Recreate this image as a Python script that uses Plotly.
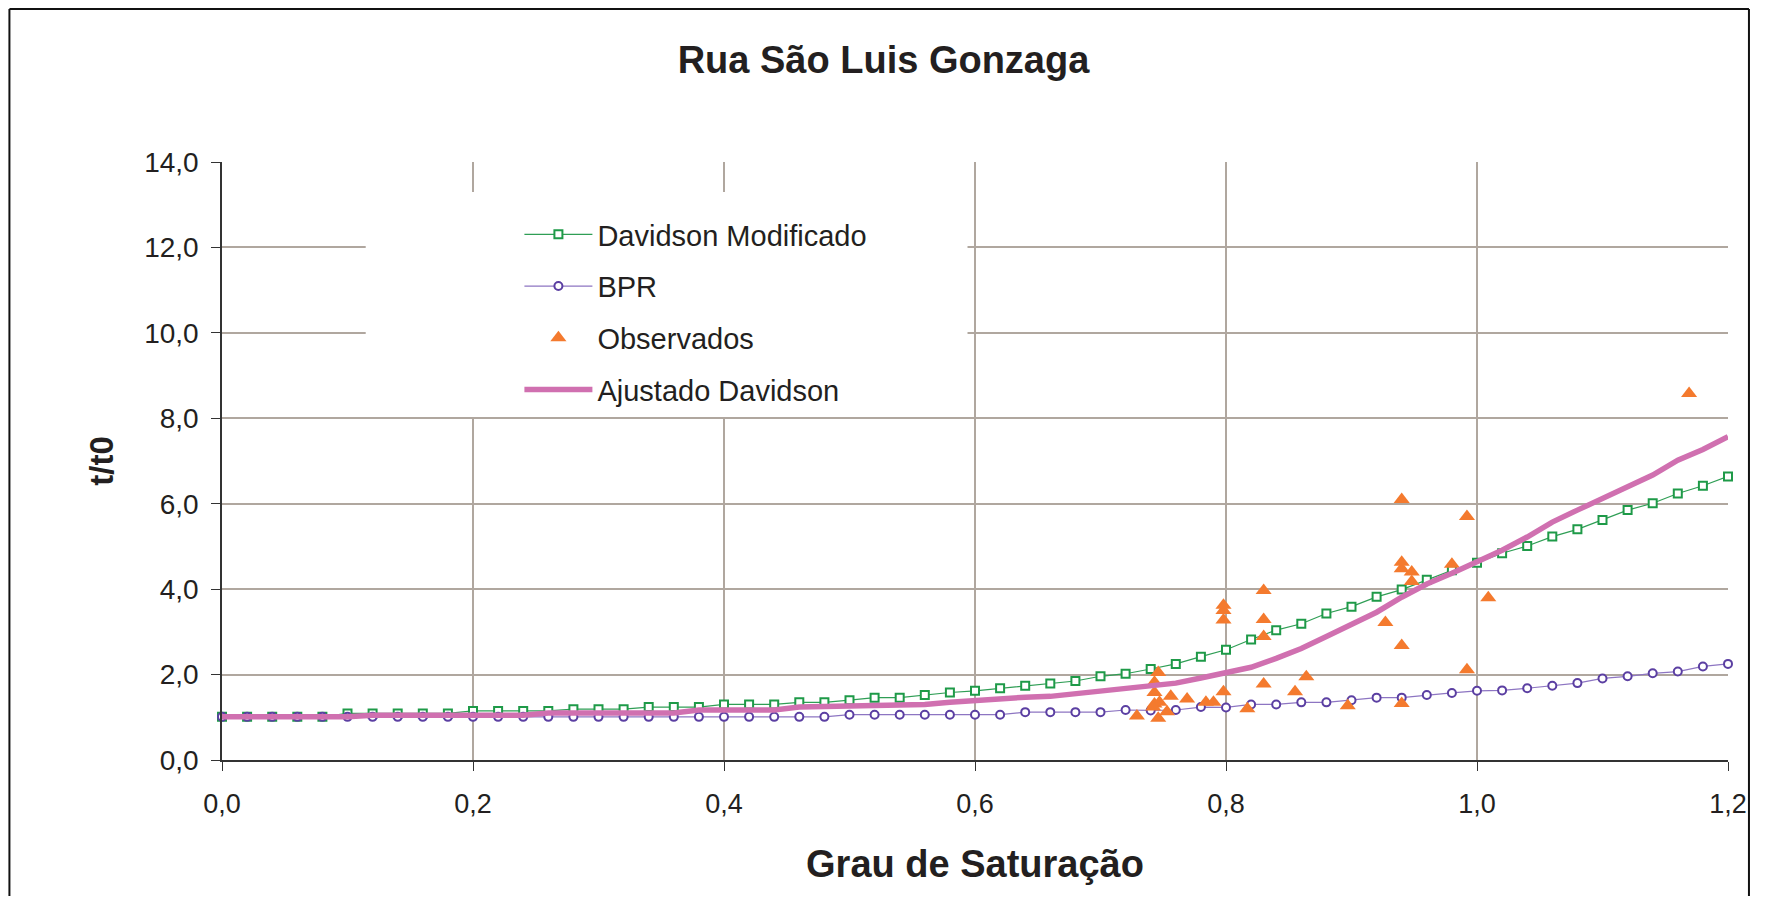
import plotly.graph_objects as go

# ---------------- data ----------------
grau = [round(i * 0.02, 2) for i in range(61)]

davidson_mod = [1.01, 1.01, 1.01, 1.01, 1.01, 1.09, 1.09, 1.09, 1.09, 1.09,
                1.15, 1.15, 1.15, 1.15, 1.19, 1.19, 1.19, 1.24, 1.24, 1.24,
                1.30, 1.30, 1.30, 1.35, 1.35, 1.40, 1.46, 1.46, 1.52, 1.58,
                1.62, 1.68, 1.74, 1.79, 1.85, 1.96, 2.02, 2.13, 2.25, 2.42,
                2.58, 2.82, 3.04, 3.19, 3.43, 3.59, 3.82, 3.99, 4.22, 4.44,
                4.62, 4.84, 5.01, 5.23, 5.40, 5.62, 5.85, 6.01, 6.24, 6.42,
                6.64]

bpr = [1.01, 1.01, 1.01, 1.01, 1.01, 1.01, 1.01, 1.01, 1.01, 1.01,
       1.01, 1.01, 1.01, 1.01, 1.01, 1.01, 1.01, 1.01, 1.01, 1.01,
       1.01, 1.01, 1.01, 1.01, 1.01, 1.06, 1.06, 1.06, 1.06, 1.06,
       1.06, 1.06, 1.12, 1.12, 1.12, 1.12, 1.17, 1.16, 1.17, 1.24,
       1.23, 1.30, 1.30, 1.35, 1.35, 1.40, 1.46, 1.46, 1.52, 1.57,
       1.62, 1.63, 1.68, 1.74, 1.80, 1.91, 1.96, 2.03, 2.07, 2.19,
       2.25]

ajustado = [1.01, 1.01, 1.01, 1.01, 1.01, 1.01, 1.05, 1.05, 1.05, 1.05,
            1.05, 1.05, 1.05, 1.10, 1.10, 1.10, 1.10, 1.10, 1.10, 1.17,
            1.17, 1.17, 1.17, 1.24, 1.25, 1.27, 1.27, 1.27, 1.30, 1.35,
            1.40, 1.45, 1.47, 1.49, 1.55, 1.60, 1.66, 1.71, 1.80, 1.92,
            2.05, 2.17, 2.38, 2.61, 2.89, 3.16, 3.46, 3.81, 4.12, 4.37,
            4.63, 4.91, 5.22, 5.57, 5.85, 6.12, 6.39, 6.67, 7.02, 7.27,
            7.57]

obs_x = [0.729, 0.743, 0.743, 0.743, 0.746, 0.746, 0.747, 0.742, 0.753, 0.756,
         0.769, 0.784, 0.790, 0.798, 0.798, 0.798, 0.798, 0.817, 0.830, 0.830,
         0.830, 0.830, 0.855, 0.864, 0.897, 0.927, 0.940, 0.940, 0.940, 0.940,
         0.940, 0.948, 0.948, 0.980, 0.992, 0.992, 1.009, 1.169]
obs_y = [1.03, 1.31, 1.58, 1.82, 2.05, 0.98, 1.35, 1.24, 1.13, 1.49,
         1.43, 1.35, 1.35, 1.60, 3.28, 3.50, 3.62, 1.20, 1.78, 2.89,
         3.29, 3.97, 1.60, 1.95, 1.27, 3.22, 1.32, 2.68, 4.48, 4.63,
         6.10, 4.18, 4.40, 4.58, 2.11, 5.70, 3.80, 8.58]

x_ticks = [0.0, 0.2, 0.4, 0.6, 0.8, 1.0, 1.2]
y_ticks = [0, 2, 4, 6, 8, 10, 12, 14]

# ---------------- layout constants ----------------
# the html body has an 8px margin, so the figure is 16px smaller than the window
OFF = 8
W, H = 1767 - 2 * OFF, 904 - 2 * OFF
L, T = 222 - OFF, 162 - OFF
R = W - (1731 - OFF)
B = H - (760 - OFF)
PW, PH = W - L - R, H - T - B


def px_x(p):
    """page pixel -> paper x"""
    return (p - OFF - L) / PW


def px_y(p):
    """page pixel -> paper y"""
    return (H - B - (p - OFF)) / PH


FONT = "Liberation Sans, Arial, sans-serif"
TXT = "#231f20"
GRID = "#b0a79f"

fig = go.Figure()

fig.add_trace(go.Scatter(
    x=grau, y=davidson_mod, name="Davidson Modificado", mode="lines+markers",
    line=dict(color="#2f9e55", width=1.2),
    marker=dict(symbol="square", size=8, color="white",
                line=dict(color="#1e9a48", width=2)),
    cliponaxis=False, legendgroup="a"))

fig.add_trace(go.Scatter(
    x=grau, y=bpr, name="BPR", mode="lines+markers",
    line=dict(color="#8d75c2", width=1.2),
    marker=dict(symbol="circle", size=8, color="white",
                line=dict(color="#5b3fa2", width=2)),
    cliponaxis=False, legendgroup="b"))

fig.add_trace(go.Scatter(
    x=obs_x, y=obs_y, name="Observados", mode="markers",
    marker=dict(symbol="triangle-up", size=14, color="#f47a2e"),
    cliponaxis=False, legendgroup="c"))

fig.add_trace(go.Scatter(
    x=grau, y=ajustado, name="Ajustado Davidson", mode="lines",
    line=dict(color="#d070b0", width=5.5),
    cliponaxis=False, legendgroup="d"))

# white box behind the legend (hides the grid there)
fig.add_shape(type="rect", xref="paper", yref="paper",
              x0=px_x(366), x1=px_x(969), y0=px_y(417), y1=px_y(192),
              fillcolor="white", line=dict(width=0), layer="above")

# outer chart border (top, left, right)
bx0, bx1, by0, by1 = OFF + 1, 1752, OFF + 1, 920
for (xa, ya, xb, yb) in [(bx0, by0, bx1, by0), (bx0, by0, bx0, by1), (bx1, by0, bx1, by1)]:
    fig.add_shape(type="line", xref="paper", yref="paper",
                  x0=px_x(xa), y0=px_y(ya), x1=px_x(xb), y1=px_y(yb),
                  line=dict(color="#111", width=2))

fig.update_layout(
    width=W, height=H,
    margin=dict(l=L, r=R, t=T, b=B, pad=0),
    paper_bgcolor="white", plot_bgcolor="white",
    separators=", ",
    font=dict(family=FONT, color=TXT, size=27),
    title=dict(text="<b>Rua São Luis Gonzaga</b>", x=0.5, xref="container",
               xanchor="center", y=1 - (60 - OFF) / H, yref="container",
               yanchor="middle",
               font=dict(size=38, family=FONT, color=TXT)),
    showlegend=True,
    legend=dict(x=px_x(520), xanchor="left", y=px_y(209), yanchor="top",
                bgcolor="rgba(0,0,0,0)", borderwidth=0,
                font=dict(size=29, family=FONT, color=TXT),
                traceorder="grouped", tracegroupgap=11, itemwidth=68),
    xaxis=dict(range=[0, 1.2], tickvals=x_ticks, tickformat=".1f",
               showgrid=True, gridcolor=GRID, gridwidth=2,
               showline=True, linecolor="#333", linewidth=2,
               ticks="outside", ticklen=9, tickcolor="#333", tickwidth=1,
               ticklabelstandoff=10, zeroline=False,
               tickfont=dict(size=27, family=FONT, color=TXT),
               title=dict(text="<b>Grau de Saturação</b>", standoff=32,
                          font=dict(size=38, family=FONT, color=TXT))),
    yaxis=dict(range=[0, 14], tickvals=y_ticks, tickformat=".1f",
               showgrid=True, gridcolor=GRID, gridwidth=2,
               showline=True, linecolor="#333", linewidth=1.5,
               ticks="outside", ticklen=9, tickcolor="#333", tickwidth=1,
               ticklabelstandoff=7, zeroline=False,
               tickfont=dict(size=28, family=FONT, color=TXT),
               title=dict(text="<b>t/t0</b>", standoff=21,
                          font=dict(size=33, family=FONT, color=TXT))),
)

fig.write_html("out.html")
